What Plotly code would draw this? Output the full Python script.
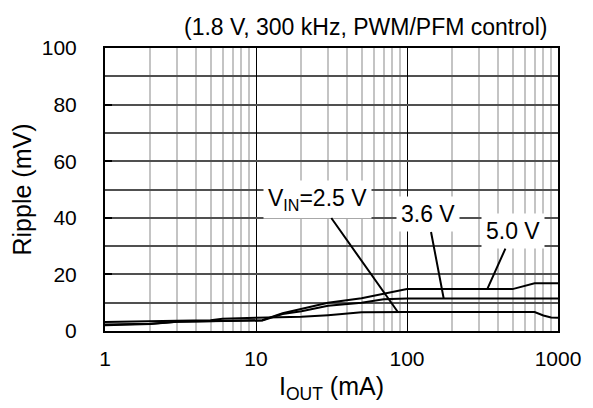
import math
import plotly.graph_objects as go

# ripple vs output current, three input voltages
x_25 = [1, 2, 3, 5, 6, 10, 12, 20, 30, 40, 50, 100, 200, 500, 700, 800, 900, 1000]
y_25 = [3.2, 3.3, 3.6, 3.8, 4.3, 4.7, 4.8, 5.0, 5.6, 6.3, 6.6, 6.7, 6.7, 6.7, 6.7, 5.5, 4.8, 4.7]

x_36 = [1, 2, 3, 5, 6, 10, 11, 15, 20, 30, 50, 70, 100, 1000]
y_36 = [2.0, 2.5, 3.3, 3.5, 3.6, 3.6, 3.7, 6.0, 7.0, 8.9, 10.0, 11.2, 11.5, 11.5]

x_50 = [1, 2, 3, 5, 6, 10, 11, 15, 20, 30, 50, 70, 100, 500, 600, 700, 1000]
y_50 = [2.3, 2.6, 3.3, 3.5, 3.7, 3.7, 3.8, 6.3, 7.8, 10.0, 11.6, 13.1, 14.8, 14.8, 15.8, 16.9, 16.9]

x_ticks = [1, 10, 100, 1000]
x_minor = [m * d for d in (1, 10, 100) for m in range(2, 10)]
y_ticks = [0, 20, 40, 60, 80, 100]

FONT = "Liberation Sans, Arial, sans-serif"

fig = go.Figure()
for xs, ys in [(x_25, y_25), (x_36, y_36), (x_50, y_50)]:
    fig.add_trace(go.Scatter(x=xs, y=ys, mode="lines",
                             line=dict(color="black", width=2), showlegend=False))

# labels with leader lines (text offset in pixels from the curve point)
labels = [
    ("V<sub>IN</sub>=2.5 V", 87, 6.7, -80, -113),
    ("3.6 V", 175, 11.5, -16, -84),
    ("5.0 V", 340, 14.8, 26, -58),
]
for txt, lx, ly, ax, ay in labels:
    fig.add_annotation(x=math.log10(lx), y=ly, text=txt, ax=ax, ay=ay,
                       showarrow=True, arrowhead=0, arrowwidth=2, arrowcolor="black",
                       standoff=0, bgcolor="white", borderpad=4,
                       font=dict(family=FONT, size=23, color="black"))

fig.add_annotation(x=1, y=1, xref="paper", yref="paper", xanchor="right", yanchor="bottom",
                   yshift=6, xshift=-9, showarrow=False,
                   text="(1.8 V, 300 kHz, PWM/PFM control)",
                   font=dict(family=FONT, size=23, color="black"))

fig.update_xaxes(type="log", range=[0, 3], tickvals=x_ticks, ticktext=["1", "10", "100", "1000"],
                 showgrid=True, gridcolor="black", gridwidth=1,
                 minor=dict(tickvals=x_minor, showgrid=True, gridcolor="#c4c4c4", gridwidth=2),
                 showline=True, linecolor="black", linewidth=2, mirror=True,
                 ticks="", ticklabelstandoff=8,
                 tickfont=dict(family=FONT, size=21, color="black"),
                 title=dict(text="I<sub>OUT</sub> (mA)", standoff=8,
                            font=dict(family=FONT, size=25, color="black")))
fig.update_yaxes(range=[0, 100], tickvals=y_ticks,
                 showgrid=True, gridcolor="#505050", gridwidth=1.5,
                 minor=dict(dtick=10, showgrid=True, gridcolor="#505050", gridwidth=1.5),
                 showline=True, linecolor="black", linewidth=2, mirror=True,
                 ticks="inside", ticklen=7, tickwidth=2, tickcolor="black", ticklabelstandoff=22,
                 zeroline=False,
                 tickfont=dict(family=FONT, size=21, color="black"),
                 title=dict(text="Ripple (mV)", standoff=4,
                            font=dict(family=FONT, size=25, color="black")))

# page body adds an 8 px offset, so the figure is 8 px smaller each way
fig.update_layout(width=585, height=400, plot_bgcolor="white", paper_bgcolor="white",
                  margin=dict(l=92, r=24, t=40, b=75))
fig.write_html("out.html")
